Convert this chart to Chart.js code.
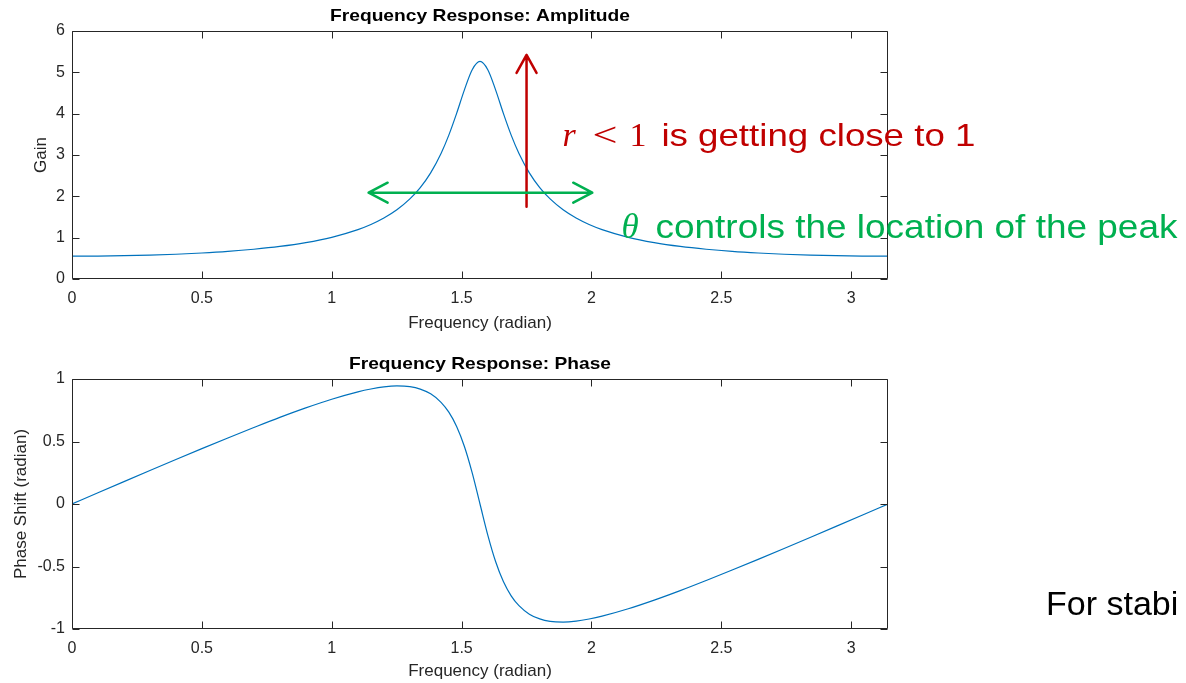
<!DOCTYPE html>
<html>
<head>
<meta charset="utf-8">
<script src="https://cdn.jsdelivr.net/npm/chart.js@4.4.0/dist/chart.umd.min.js"></script>
<style>
  html, body { margin: 0; padding: 0; background: #fff; }
  #wrap { position: relative; width: 1186px; height: 683px; overflow: hidden; }
  .pane { position: absolute; left: 0; width: 1186px; }
</style>
</head>
<body>
<div id="wrap">
  <div class="pane" style="top:0;height:340px"><canvas id="ampChart"></canvas></div>
  <div class="pane" style="top:340px;height:343px"><canvas id="phaseChart"></canvas></div>
</div>
<script>
// frequency samples (radian)
const freq = [0, 0.1, 0.2, 0.3, 0.4, 0.5, 0.6, 0.7, 0.8, 0.9, 1.0, 1.1008, 1.1508, 1.2008, 1.2508,
  1.3008, 1.3408, 1.3808, 1.4208, 1.4508, 1.4808, 1.5108, 1.5408, 1.5708,
  1.6008, 1.6308, 1.6608, 1.6908, 1.7208, 1.7608, 1.8008, 1.8408, 1.8908, 1.9408, 1.9908, 2.0408,
  2.1416, 2.2416, 2.3416, 2.4416, 2.5416, 2.6416, 2.7416, 2.8416, 2.9416, 3.0416, 3.1416];

const gain = [0.552, 0.555, 0.564, 0.578, 0.599, 0.629, 0.668, 0.720, 0.788, 0.881, 1.009, 1.195, 1.319, 1.475, 1.674,
  1.937, 2.211, 2.568, 3.037, 3.481, 4.007, 4.576, 5.063, 5.263,
  5.063, 4.576, 4.007, 3.481, 3.037, 2.568, 2.211, 1.937, 1.674, 1.475, 1.319, 1.195,
  1.009, 0.881, 0.788, 0.720, 0.668, 0.629, 0.599, 0.578, 0.564, 0.555, 0.552];

const phase = [0, 0.0895, 0.1787, 0.2675, 0.3556, 0.4428, 0.5283, 0.6115, 0.6927, 0.7687, 0.8380, 0.8971, 0.9199, 0.9368, 0.9443,
  0.9386, 0.9193, 0.8812, 0.8135, 0.7345, 0.6201, 0.4598, 0.2484, 0,
  -0.2484, -0.4598, -0.6201, -0.7345, -0.8135, -0.8812, -0.9193, -0.9386, -0.9443, -0.9368, -0.9199, -0.8971,
  -0.8380, -0.7687, -0.6927, -0.6115, -0.5283, -0.4428, -0.3556, -0.2675, -0.1787, -0.0895, 0];

const xTicks = [0, 0.5, 1, 1.5, 2, 2.5, 3];
const gainTicks = [0, 1, 2, 3, 4, 5, 6];
const phaseTicks = [-1, -0.5, 0, 0.5, 1];

const AX = '#262626';
const LINE = '#0072BD';
const RED = '#C00000';
const GREEN = '#00B050';
const SANS = '"Liberation Sans", Arial, Helvetica, sans-serif';
const SERIF = '"Liberation Serif", "Times New Roman", serif';

function pts(ys) {
  return freq.map((f, i) => ({ x: f, y: ys[i] }));
}

function arrowHead(ctx, tx, ty, ang, len, half) {
  const bx = tx - Math.cos(ang) * len, by = ty - Math.sin(ang) * len;
  const nx = -Math.sin(ang) * half, ny = Math.cos(ang) * half;
  ctx.moveTo(bx + nx, by + ny);
  ctx.lineTo(tx, ty);
  ctx.lineTo(bx - nx, by - ny);
}

// draw text squeezed/stretched to a given width
function fitText(ctx, text, x, y, font, width) {
  ctx.font = font;
  const w = ctx.measureText(text).width;
  ctx.save();
  ctx.translate(x, y);
  ctx.scale(width / w, 1);
  ctx.fillText(text, 0, 0);
  ctx.restore();
}

// MATLAB style box with inward ticks, plus the subplot title
const framePlugin = {
  id: 'frame',
  afterDraw(chart, args, opts) {
    const { ctx, chartArea: a, scales: { x, y } } = chart;
    const L = Math.round(a.left) + 0.5, R = Math.round(a.right) - 0.5;
    const T = Math.round(a.top) + 0.5, B = Math.round(a.bottom) - 0.5;
    ctx.save();
    ctx.strokeStyle = AX;
    ctx.lineWidth = 1;
    ctx.beginPath();
    ctx.rect(L, T, R - L, B - T);
    x.ticks.forEach(t => {
      const px = Math.round(x.getPixelForValue(t.value)) + 0.5;
      ctx.moveTo(px, B); ctx.lineTo(px, B - 7);
      ctx.moveTo(px, T); ctx.lineTo(px, T + 7);
    });
    y.ticks.forEach(t => {
      const py = Math.round(y.getPixelForValue(t.value)) + 0.5;
      ctx.moveTo(L, py); ctx.lineTo(L + 7, py);
      ctx.moveTo(R, py); ctx.lineTo(R - 7, py);
    });
    ctx.stroke();
    ctx.fillStyle = '#000';
    ctx.textAlign = 'left';
    ctx.textBaseline = 'alphabetic';
    fitText(ctx, opts.title, (a.left + a.right) / 2 - opts.titleWidth / 2, a.top - 10, 'bold 17px ' + SANS, opts.titleWidth);
    ctx.restore();
  }
};

// annotations on the amplitude plot
const ampNotes = {
  id: 'ampNotes',
  afterDraw(chart) {
    const { ctx, scales: { x, y } } = chart;
    ctx.save();
    ctx.lineCap = 'round';
    ctx.lineJoin = 'round';

    // red arrow: r getting close to 1 pushes the peak up
    const rx = x.getPixelForValue(1.75);
    const ry0 = y.getPixelForValue(1.75), ry1 = y.getPixelForValue(5.42);
    ctx.strokeStyle = RED;
    ctx.lineWidth = 2.5;
    ctx.beginPath();
    ctx.moveTo(rx, ry0); ctx.lineTo(rx, ry1);
    arrowHead(ctx, rx, ry1, -Math.PI / 2, 18, 10);
    ctx.stroke();

    // green double arrow: theta moves the peak sideways
    const gy = y.getPixelForValue(2.088);
    const gx0 = x.getPixelForValue(1.142), gx1 = x.getPixelForValue(2.003);
    ctx.strokeStyle = GREEN;
    ctx.beginPath();
    ctx.moveTo(gx0, gy); ctx.lineTo(gx1, gy);
    arrowHead(ctx, gx0, gy, Math.PI, 19, 10);
    arrowHead(ctx, gx1, gy, 0, 19, 10);
    ctx.stroke();

    ctx.textAlign = 'left';
    ctx.textBaseline = 'alphabetic';

    // red label
    const ax = x.getPixelForValue(1.888), ay = y.getPixelForValue(3.225);
    ctx.fillStyle = RED;
    ctx.font = 'italic 34px ' + SERIF;
    ctx.fillText('r', ax, ay);
    fitText(ctx, '<', ax + 30, ay, '34px ' + SERIF, 25);
    ctx.font = '34px ' + SERIF;
    ctx.fillText('1', ax + 67, ay);
    fitText(ctx, 'is getting close to 1', ax + 99, ay, '32px ' + SANS, 314);

    // green label
    const bx = x.getPixelForValue(2.1154), by = y.getPixelForValue(0.992);
    ctx.fillStyle = GREEN;
    ctx.font = 'italic 35px ' + SERIF;
    ctx.fillText('\u03B8', bx, by);
    fitText(ctx, 'controls the location of the peak', bx + 34, by, '33px ' + SANS, 522);
    ctx.restore();
  }
};

// text at the right of the phase plot
const phaseNotes = {
  id: 'phaseNotes',
  afterDraw(chart) {
    const { ctx, scales: { x, y } } = chart;
    ctx.save();
    ctx.fillStyle = '#000';
    ctx.textAlign = 'left';
    ctx.textBaseline = 'alphabetic';
    ctx.font = '34px ' + SANS;
    ctx.fillText('For stabi', x.getPixelForValue(3.75), y.getPixelForValue(-0.888));
    ctx.restore();
  }
};

function makeChart(id, ys, yTicks, yMin, yMax, cfg) {
  return new Chart(document.getElementById(id), {
    type: 'line',
    data: {
      datasets: [{
        data: pts(ys),
        borderColor: LINE,
        borderWidth: 1.2,
        pointRadius: 0,
        cubicInterpolationMode: 'monotone',
        fill: false
      }]
    },
    options: {
      responsive: true,
      maintainAspectRatio: false,
      animation: false,
      events: [],
      layout: { padding: { left: 0, right: 298, top: cfg.top, bottom: 0 } },
      plugins: {
        legend: { display: false },
        tooltip: { enabled: false },
        frame: { title: cfg.title, titleWidth: cfg.titleWidth }
      },
      scales: {
        x: {
          type: 'linear',
          min: 0,
          max: 3.1416,
          grid: { display: false, drawTicks: false },
          border: { display: false },
          afterBuildTicks: s => { s.ticks = xTicks.map(v => ({ value: v })); },
          afterFit: s => { s.height = cfg.xHeight; },
          ticks: { color: AX, font: { family: SANS, size: 16 }, padding: 10, maxRotation: 0,
            callback: v => String(v) },
          title: { display: true, text: 'Frequency (radian)', color: AX,
            font: { family: SANS, size: 17 }, padding: { top: 0, bottom: cfg.xTitlePad } }
        },
        y: {
          min: yMin,
          max: yMax,
          grid: { display: false, drawTicks: false },
          border: { display: false },
          afterBuildTicks: s => { s.ticks = yTicks.map(v => ({ value: v })); },
          afterFit: s => { s.width = 72; },
          ticks: { color: AX, font: { family: SANS, size: 16 }, padding: 7,
            callback: v => String(v) },
          title: { display: true, text: cfg.yLabel, color: AX,
            font: { family: SANS, size: 17 }, padding: { top: cfg.yTitlePad, bottom: 0 } }
        }
      }
    },
    plugins: [framePlugin, cfg.notes]
  });
}

makeChart('ampChart', gain, gainTicks, 0, 6, {
  top: 31, xHeight: 61, xTitlePad: 6, yTitlePad: 31, yLabel: 'Gain',
  title: 'Frequency Response: Amplitude', titleWidth: 300, notes: ampNotes
});

makeChart('phaseChart', phase, phaseTicks, -1, 1, {
  top: 39, xHeight: 54, xTitlePad: 1, yTitlePad: 11, yLabel: 'Phase Shift (radian)',
  title: 'Frequency Response: Phase', titleWidth: 262, notes: phaseNotes
});
</script>
</body>
</html>
